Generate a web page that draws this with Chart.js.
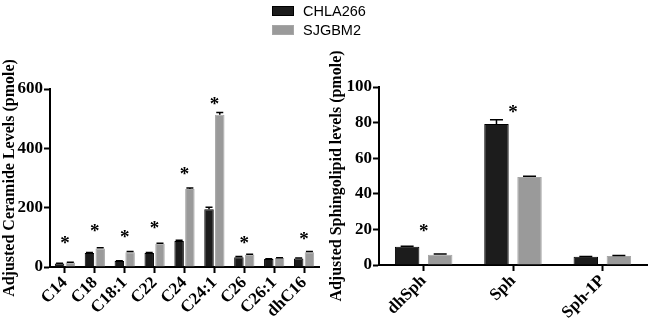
<!DOCTYPE html>
<html>
<head>
<meta charset="utf-8">
<script src="https://cdn.jsdelivr.net/npm/chart.js@4/dist/chart.umd.min.js"></script>
<style>
  body { margin: 0; background: #fff; }
  #wrap { position: relative; width: 650px; height: 322px; overflow: hidden; }
  canvas { position: absolute; top: 0; }
  #ceramideChart { left: 0; }
  #sphChart { left: 327px; }
  #legend { position: absolute; left: 272px; top: 1px; font-family: 'Liberation Sans', Arial, sans-serif; font-size: 14.5px; color: #000; }
  .item { display: flex; align-items: center; height: 19px; }
  .box { width: 22px; height: 10px; margin-right: 9px; box-sizing: border-box; }
</style>
</head>
<body>
<div id="wrap">
  <canvas id="ceramideChart" width="330" height="322"></canvas>
  <canvas id="sphChart" width="323" height="322"></canvas>
  <div id="legend"></div>
</div>
<script>
let seriesNames = ['CHLA266', 'SJGBM2'];
let seriesColors = ['#1c1c1c', '#9a9a9a'];
let seriesBorders = ['#000000', '#a6a6a6'];

// ceramides (left panel)
let ceramideLabels = ['C14', 'C18', 'C18:1', 'C22', 'C24', 'C24:1', 'C26', 'C26:1', 'dhC16'];
let ceramideCHLA266 = [12, 47, 20, 47, 88, 195, 33, 27, 29];
let ceramideSJGBM2 = [15, 62, 50, 78, 263, 513, 41, 30, 50];
let ceramideErrCHLA266 = [1, 2, 1, 2, 2, 6, 2, 1, 1];
let ceramideErrSJGBM2 = [1, 3, 2, 2, 3, 8, 2, 1, 2];
let ceramideStars = [96, 135, 116, 144, 327, 562, 96, null, 107];
let ceramideTicks = [0, 200, 400, 600];

// sphingoid bases (right panel)
let sphLabels = ['dhSph', 'Sph', 'Sph-1P'];
let sphCHLA266 = [10.3, 79.2, 4.6];
let sphSJGBM2 = [5.8, 49.5, 5.0];
let sphErrCHLA266 = [0.3, 2.4, 0.2];
let sphErrSJGBM2 = [0.4, 0.4, 0.3];
let sphStars = [21.6, 88.2, null];
let sphTicks = [0, 20, 40, 60, 80, 100];

// error bars (up only) and significance stars
const extrasPlugin = {
    id: 'extras',
    afterDatasetsDraw(chart, args, opts) {
        const ctx = chart.ctx;
        const yScale = chart.scales.y;
        const xScale = chart.scales.x;
        ctx.save();
        ctx.strokeStyle = '#000';
        ctx.lineWidth = 1.5;
        opts.errors.forEach((errs, di) => {
            const meta = chart.getDatasetMeta(di);
            const vals = chart.data.datasets[di].data;
            meta.data.forEach((bar, i) => {
                const yTop = yScale.getPixelForValue(vals[i] + errs[i]);
                const half = opts.cap / 2;
                ctx.beginPath();
                ctx.moveTo(bar.x, bar.y);
                ctx.lineTo(bar.x, yTop);
                ctx.moveTo(bar.x - half, yTop);
                ctx.lineTo(bar.x + half, yTop);
                ctx.stroke();
            });
        });
        ctx.fillStyle = '#000';
        ctx.font = 'bold 19px "Liberation Serif"';
        ctx.textAlign = 'center';
        ctx.textBaseline = 'alphabetic';
        opts.stars.forEach((v, i) => {
            if (v === null) return;
            const x = xScale.getPixelForValue(i);
            const y = yScale.getPixelForValue(v);
            ctx.fillText('*', x, y + 10);
        });
        ctx.restore();
    }
};

function makeChart(canvasId, labels, blackVals, grayVals, errBlack, errGray, stars, yTicks, yTitle, padding, yWidth, barPct, catPct, cap) {
    const ctx = document.getElementById(canvasId).getContext('2d');
    const axisGrid = {
        display: true,
        drawOnChartArea: false,
        drawTicks: true,
        tickLength: 6,
        tickWidth: 2,
        tickColor: '#000',
        offset: false
    };
    const config = {
        type: 'bar',
        data: {
            labels: labels,
            datasets: [
                {
                    label: seriesNames[0],
                    data: blackVals,
                    backgroundColor: seriesColors[0],
                    borderColor: seriesBorders[0],
                    borderWidth: 1,
                    barPercentage: barPct,
                    categoryPercentage: catPct
                },
                {
                    label: seriesNames[1],
                    data: grayVals,
                    backgroundColor: seriesColors[1],
                    borderColor: seriesBorders[1],
                    borderWidth: 1,
                    barPercentage: barPct,
                    categoryPercentage: catPct
                }
            ]
        },
        options: {
            responsive: false,
            animation: false,
            devicePixelRatio: 1,
            layout: { padding: padding },
            plugins: {
                legend: { display: false },
                tooltip: { enabled: false },
                extras: { errors: [errBlack, errGray], stars: stars, cap: cap }
            },
            scales: {
                x: {
                    grid: axisGrid,
                    border: { display: true, color: '#000', width: 2 },
                    ticks: {
                        color: '#000',
                        autoSkip: false,
                        minRotation: 45,
                        maxRotation: 45,
                        padding: 0,
                        font: { family: 'Liberation Serif', size: 17, weight: 'bold' }
                    },
                    afterFit: (s) => { s.height = 55; }
                },
                y: {
                    min: yTicks[0],
                    max: yTicks[yTicks.length - 1],
                    grid: axisGrid,
                    border: { display: true, color: '#000', width: 2 },
                    afterBuildTicks: (s) => { s.ticks = yTicks.map(v => ({ value: v })); },
                    ticks: {
                        color: '#000',
                        padding: 1,
                        font: { family: 'Liberation Serif', size: 17, weight: 'bold' }
                    },
                    title: {
                        display: true,
                        text: yTitle,
                        color: '#000',
                        padding: 0,
                        font: { family: 'Liberation Serif', size: 16, weight: 'bold' }
                    },
                    afterFit: (s) => { s.width = yWidth; }
                }
            }
        },
        plugins: [extrasPlugin]
    };
    return new Chart(ctx, config);
}

makeChart('ceramideChart', ceramideLabels, ceramideCHLA266, ceramideSJGBM2,
    ceramideErrCHLA266, ceramideErrSJGBM2, ceramideStars, ceramideTicks,
    'Adjusted Ceramide Levels (pmole)',
    { top: 89, bottom: 0, left: 0, right: 11 }, 50, 0.88, 0.72, 7);

makeChart('sphChart', sphLabels, sphCHLA266, sphSJGBM2,
    sphErrCHLA266, sphErrSJGBM2, sphStars, sphTicks,
    'Adjusted Sphingolipid levels (pmole)',
    { top: 87, bottom: 2, left: 0, right: 3 }, 52, 0.74, 0.74, 13);

// legend
const legend = document.getElementById('legend');
seriesNames.forEach((name, i) => {
    const item = document.createElement('div');
    item.className = 'item';
    const box = document.createElement('span');
    box.className = 'box';
    box.style.background = seriesColors[i];
    box.style.border = '1px solid ' + seriesBorders[i];
    const txt = document.createElement('span');
    txt.innerText = name;
    item.appendChild(box);
    item.appendChild(txt);
    legend.appendChild(item);
});
</script>
</body>
</html>
